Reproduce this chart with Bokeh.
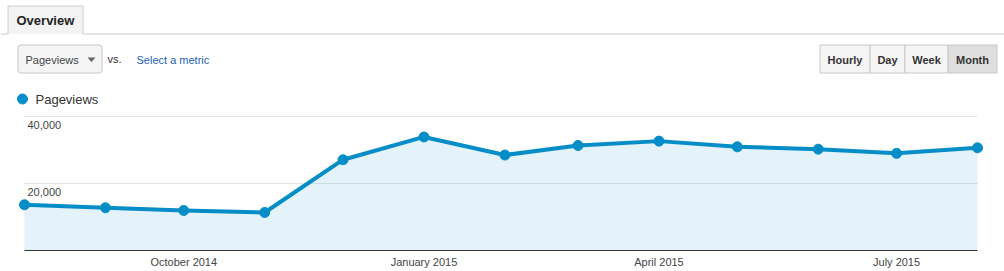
import pandas as pd
from bokeh.plotting import figure
from bokeh.layouts import column
from bokeh.models import Range1d, ColumnDataSource
from bokeh.core.properties import value
from bokeh.embed import file_html
from bokeh.resources import INLINE

# ---------------- data ----------------
series_name = "Pageviews"
months = ["2014-08-01", "2014-09-01", "2014-10-01", "2014-11-01", "2014-12-01",
          "2015-01-01", "2015-02-01", "2015-03-01", "2015-04-01", "2015-05-01",
          "2015-06-01", "2015-07-01", "2015-08-01"]
pageviews = [13650, 12750, 11950, 11350, 27100, 33900, 28500,
             31350, 32650, 30950, 30250, 29000, 30650]
x_tick_dates = ["2014-10-01", "2015-01-01", "2015-04-01", "2015-07-01"]
x_tick_labels = ["October 2014", "January 2015", "April 2015", "July 2015"]
y_ticks = [20000, 40000]
y_tick_labels = ["20,000", "40,000"]
tab_label = "Overview"
metric_label = "Pageviews"
compare_text = "vs."
compare_link = "Select a metric"
granularity = ["Hourly", "Day", "Week", "Month"]
selected_granularity = "Month"

FONT = "Liberation Sans"
BLUE = "#058dc7"
W = 1004

dates = pd.to_datetime(months)
tick_dates = pd.to_datetime(x_tick_dates)

# ---------------- header ----------------
H = 114
h = figure(width=W, height=H, x_range=Range1d(0, W), y_range=Range1d(H, 0),
           output_backend="svg", toolbar_location=None, min_border=0,
           x_axis_location=None, y_axis_location=None)
h.xgrid.visible = False
h.ygrid.visible = False
h.outline_line_color = None

# tab strip
h.segment(x0=[0, 82], y0=[33.5, 33.5], x1=[7.5, W], y1=[33.5, 33.5],
          line_color="#cccccc", line_width=1)
h.quad(left=[7.5], right=[82.5], top=[5.5], bottom=[33.5],
       fill_color="#f3f3f3", line_color=None)
h.multi_line(xs=[[7.5, 7.5, 82.5, 82.5]], ys=[[33.5, 5.5, 5.5, 33.5]],
             line_color="#cccccc", line_width=1)
h.text(x=[16], y=[20], text=[tab_label], text_font=value(FONT),
       text_font_size="13px", text_font_style="bold", text_baseline="middle",
       text_color="#222222")

# metric dropdown
h.quad(left=[17.5], right=[101.5], top=[44.5], bottom=[72.5],
       fill_color="#f5f5f5", line_color="#c8c8c8", border_radius=3)
h.text(x=[25], y=[59], text=[metric_label], text_font=value(FONT),
       text_font_size="11px", text_baseline="middle", text_color="#444444")
h.patch(x=[87, 95, 91], y=[57, 57, 61.5], fill_color="#666666", line_color=None)
h.text(x=[107], y=[58], text=[compare_text], text_font=value(FONT),
       text_font_size="11px", text_baseline="middle", text_color="#333333")
h.text(x=[136], y=[59], text=[compare_link], text_font=value(FONT),
       text_font_size="11px", text_baseline="middle", text_color="#1a62b4")

# granularity buttons
edges = [819.5, 869.5, 904.5, 947.5, 996.5]
btn_fill = ["#dedede" if g == selected_granularity else "#f5f5f5" for g in granularity]
h.quad(left=edges[:-1], right=edges[1:], top=[44.5] * 4, bottom=[72.5] * 4,
       fill_color=btn_fill, line_color="#c8c8c8")
h.text(x=[(a + b) / 2 for a, b in zip(edges[:-1], edges[1:])], y=[59] * 4,
       text=granularity, text_font=value(FONT), text_font_size="11px",
       text_font_style="bold", text_align="center", text_baseline="middle",
       text_color="#333333")

# legend
h.scatter(x=[22], y=[98.5], size=10, fill_color=BLUE, line_color=BLUE)
h.text(x=[35], y=[99], text=[series_name], text_font=value(FONT),
       text_font_size="13px", text_baseline="middle", text_color="#333333")

# ---------------- chart ----------------
# plot area in page pixels: x 24..977, baseline (0) at y 250, 40,000 at y 116
left_px, right_px = 24, 977
t0, t1 = dates[0], dates[-1]
per_px = (t1 - t0) / (right_px - left_px)
xr = Range1d(t0 - per_px * left_px, t1 + per_px * (W - right_px))

CH = 157                      # chart figure covers page y 114..271
base_px, top_px = 250, 116
k = max(y_ticks) / (base_px - top_px)      # value per pixel
yr = Range1d(-(H + CH - base_px) * k, (base_px - H) * k)

src = ColumnDataSource(dict(x=dates, y=pageviews))
p = figure(width=W, height=CH, x_axis_type="datetime", x_range=xr, y_range=yr,
           output_backend="svg", toolbar_location=None, min_border=0,
           x_axis_location=None, y_axis_location=None)
p.outline_line_color = None
p.xgrid.visible = False
p.ygrid.visible = False

# horizontal grid lines spanning the data extent
p.segment(x0=[t0] * len(y_ticks), x1=[t1] * len(y_ticks), y0=y_ticks, y1=y_ticks,
          line_color="#e4e4e4", line_width=1, level="underlay")

p.varea(x="x", y1=0, y2="y", source=src, fill_color=BLUE, fill_alpha=0.11)
# baseline axis line over the data extent
p.segment(x0=[t0], x1=[t1], y0=[0], y1=[0], line_color="#333333", line_width=1)
p.line(x="x", y="y", source=src, line_color=BLUE, line_width=4, line_join="round")
p.scatter(x="x", y="y", source=src, size=10, fill_color=BLUE, line_color=BLUE)

# y tick labels inside the plot, just below their grid lines
p.text(x=[t0] * len(y_ticks), y=y_ticks, text=y_tick_labels, x_offset=3,
       y_offset=8, text_font=value(FONT), text_font_size="11px",
       text_baseline="middle", text_color="#444444")

# x tick labels under the baseline
p.text(x=tick_dates, y=[0] * len(tick_dates), text=x_tick_labels, y_offset=11,
       text_font=value(FONT), text_font_size="11px", text_align="center",
       text_baseline="middle", text_color="#444444")

layout = column(h, p, spacing=0)
open("out.html", "w").write(file_html(layout, INLINE))
